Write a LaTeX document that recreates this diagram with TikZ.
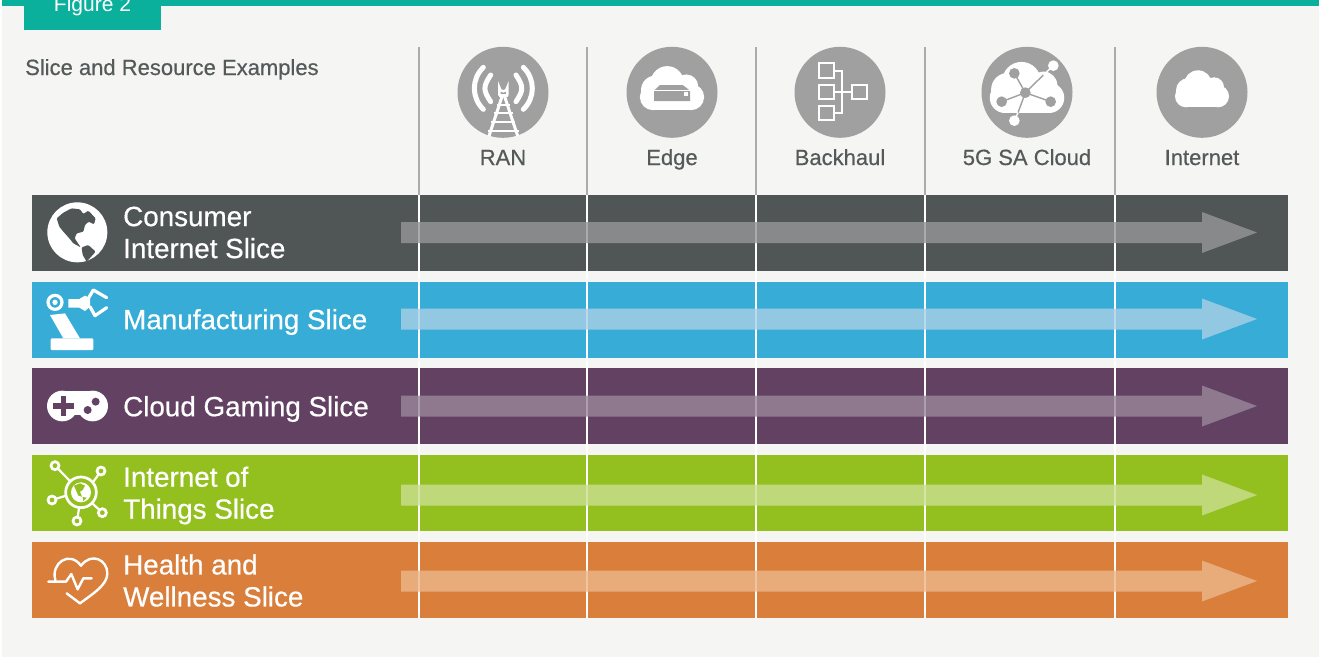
\documentclass[tikz,border=0pt]{standalone}
\usepackage{fontspec}
\setmainfont{Liberation Sans}
\newfontfamily\medfont[FakeBold=0.5]{Liberation Sans}
\definecolor{pagebg}{HTML}{F5F5F3}
\definecolor{teal}{HTML}{0AB09C}
\definecolor{labelgray}{HTML}{54595A}
\definecolor{rulegray}{HTML}{ABABAB}
\definecolor{icongray}{HTML}{A0A0A0}
\definecolor{bandgray}{HTML}{505556}
\definecolor{bandblue}{HTML}{37ACD6}
\definecolor{bandpurple}{HTML}{624162}
\definecolor{bandgreen}{HTML}{93C01F}
\definecolor{bandorange}{HTML}{D97F3B}
\definecolor{flowgray}{HTML}{969798}
\definecolor{flowblue}{HTML}{ABD0E6}
\definecolor{flowpurple}{HTML}{9A889B}
\definecolor{flowgreen}{HTML}{CBDF91}
\definecolor{floworange}{HTML}{ECB68A}
\tikzset{
  headlabel/.style={text=labelgray, inner sep=0pt, font=\medfont\fontsize{22}{26}\selectfont, anchor=base},
  bandlabel/.style={text=white, inner sep=0pt, font=\medfont\fontsize{27.8}{32}\selectfont, anchor=west, align=left},
  iconline/.style={draw=white, line width=2.4pt, line cap=round, line join=round},
}
% cloud in px around its centre
\newcommand{\cloudshape}{
  \fill (-16,4) circle[radius=11];
  \fill (-14,-2) circle[radius=12];
  \fill (-4,-8) circle[radius=14];
  \fill (12,-5) circle[radius=10];
  \fill (16,4) circle[radius=11];
  \fill (-16,-4) rectangle (16,15);
}
\begin{document}
\begin{tikzpicture}[x=1pt,y=-1pt]
 \useasboundingbox (0,0) rectangle (1319,657);
 \clip (0,0) rectangle (1319,657);

 %background and tab
 \fill[white] (0,0) rectangle (1319,657);
 \fill[pagebg] (2,0) rectangle (1319,657);
 \fill[teal] (2,0) rectangle (1319,6);
 \fill[teal] (24,0) rectangle (161,30);
 \node[text=white, inner sep=0pt, anchor=base, font=\fontsize{21}{24}\selectfont] (tab) at (92.5,11.5) {Figure 2};
 \node[headlabel, anchor=base west] (title) at (25,75) {Slice and Resource Examples};

 %header rules
 \foreach \x in {419,587,756,925,1115} {
   \draw[rulegray, line width=2pt] (\x,47) -- (\x,195);
 }

 %header circles
 \foreach \x/\name/\tag in {503/RAN/ran, 672/Edge/edge, 840/Backhaul/backhaul, 1027/5G SA Cloud/sacloud, 1202/Internet/internet} {
   \fill[icongray] (\x,92.3) circle[radius=45.5];
   \node[headlabel] (\tag) at (\x,165) {\name};
 }

 %bands
 \foreach \y/\col in {195/bandgray, 282/bandblue, 368/bandpurple, 455/bandgreen, 542/bandorange} {
   \fill[\col] (32,\y) rectangle (1288,\y+76);
 }
 \foreach \x in {419,587,756,925,1115} {
   \draw[white, line width=2pt] (\x,195) -- (\x,618);
 }
 \foreach \c/\col in {232.5/flowgray, 319/flowblue, 406/flowpurple, 495/flowgreen, 581/floworange} {
   \fill[\col, opacity=0.8] (401,\c-10.5) -- (1202,\c-10.5) -- (1202,\c-20.5) -- (1257,\c)
     -- (1202,\c+20.5) -- (1202,\c+10.5) -- (401,\c+10.5) -- cycle;
 }

 %band labels
 \node[bandlabel] (consumer) at (123,232.5) {Consumer\\Internet Slice};
 \node[bandlabel] (manufacturing) at (123,322) {Manufacturing Slice};
 \node[bandlabel] (gaming) at (123,409) {Cloud Gaming Slice};
 \node[bandlabel] (iot) at (123,495.5) {Internet of\\Things Slice};
 \node[bandlabel] (health) at (123,580.5) {Health and\\Wellness Slice};

 %RAN icon
 \begin{scope}[shift={(440,30)}, scale=1/3]
   \foreach \m/\a/\b/\c in {94/130/112/238, 129/152/135/215, 286/250/112/238, 251/228/135/215} {
     \draw[iconline, line width=5pt] (\a,\b) .. controls (\m,\b+35) and (\m,\c-35) .. (\a,\c);
   }
   \draw[white, line width=2.4pt] (178,197) -- (178,172) arc[start angle=180, end angle=0, radius=12] -- (202,197);
   \draw[white, line width=2.4pt] (176,197) -- (204,197);
   \draw[white, line width=3pt] (186,200) -- (147,318);
   \draw[white, line width=3pt] (194,200) -- (233,318);
   \foreach \y/\w in {225/20, 250/28, 275/36, 302/46} {
     \draw[white, line width=2pt] (190-\w,\y) -- (190+\w,\y);
   }
 \end{scope}

 %Edge icon
 \begin{scope}[shift={(672,92.3)}, scale=1.19, white]
   \cloudshape
 \end{scope}
 \begin{scope}[shift={(440,30)}, scale=1/3]
   \fill[icongray] (660,165) -- (728,165) -- (750,182) -- (750,213) -- (642,213) -- (642,182) -- cycle;
   \draw[white, line width=0.6pt] (642,182) -- (750,182);
   \fill[white] (733,187) rectangle (744,197);
 \end{scope}

 %Backhaul icon
 \begin{scope}[shift={(780,30)}, scale=1/3]
   \foreach \x/\y in {117/100, 117/165, 117/228, 217/165} {
     \draw[white, line width=2pt] (\x,\y) rectangle (\x+44,\y+43);
   }
   \draw[white, line width=2pt] (161,122) -- (187,122) -- (187,250) -- (161,250);
   \draw[white, line width=2pt] (161,187) -- (217,187);
 \end{scope}

 %5G SA Cloud icon
 \begin{scope}[shift={(1027,92.3)}, scale=1.38, white]
   \cloudshape
 \end{scope}
 \begin{scope}[shift={(780,30)}, scale=1/3]
   \foreach \x/\y in {703/130, 665/215, 812/215, 790/135} {
     \draw[icongray, line width=1.4pt] (736,188) -- (\x,\y);
   }
   \draw[icongray, line width=1.4pt] (736,188) -- (714,248);
   \draw[white, line width=1.4pt] (714,248) -- (703,272);
   \draw[white, line width=1.4pt] (790,135) -- (820,107);
   \foreach \x/\y in {736/188, 703/130, 665/215, 812/215} {
     \fill[icongray] (\x,\y) circle[radius=16];
   }
   \fill[white] (820,107) circle[radius=16];
   \fill[white] (703,272) circle[radius=16];
 \end{scope}

 %Internet icon
 \begin{scope}[shift={(1202,92.3)}, white]
   \cloudshape
 \end{scope}

 %globe icon
 \begin{scope}[shift={(30,190)}, scale=1/3]
   \fill[white] (142,127) circle[radius=90];
   \fill[bandgray, rounded corners=1pt] (80,85) -- (100,68) -- (125,55) -- (150,58) -- (160,72) -- (175,62) -- (197,85) -- (192,103)
     -- (176,95) -- (165,105) -- (160,125) -- (140,130) -- (134,145) -- (152,172) -- (130,160) -- (118,145) -- (100,125) -- (88,110) -- cycle;
   \fill[bandgray, rounded corners=1pt] (155,172) -- (175,165) -- (197,185) -- (170,215) -- (158,195) -- cycle;
 \end{scope}

 %robot arm icon
 \begin{scope}[shift={(30,190)}, scale=1/3]
   \draw[white, line width=3.2pt] (75,337) circle[radius=21];
   \fill[white] (75,337) circle[radius=8];
   \fill[white] (60,375) -- (105,370) -- (150,445) -- (100,445) -- cycle;
   \fill[white, rounded corners=1pt] (62,445) rectangle (190,480);
   \fill[white] (115,327) -- (148,327) -- (165,317) -- (180,325) -- (180,350) -- (165,363) -- (148,353) -- (115,353) -- cycle;
   \draw[iconline, line width=3.2pt] (230,323) -- (190,300) -- (175,325);
   \draw[iconline, line width=3.2pt] (230,353) -- (195,377) -- (180,350);
 \end{scope}

 %gamepad icon
 \begin{scope}[shift={(30,190)}, scale=1/3]
   \fill[white] (97,648) circle[radius=46];
   \fill[white] (188,648) circle[radius=46];
   \fill[white] (97,602) rectangle (188,676);
   \fill[bandpurple] (70,640) rectangle (131,656);
   \fill[bandpurple] (92,618) rectangle (108,678);
   \fill[bandpurple] (197,635) circle[radius=12];
   \fill[bandpurple] (173,660) circle[radius=12];
 \end{scope}

 %things icon
 \begin{scope}[shift={(30,445)}, scale=1/3]
   \foreach \x/\y/\px/\py in {75/62/120/108, 213/78/190/110, 66/165/108/152, 217/203/187/175, 141/228/147/190} {
     \draw[white, line width=2.2pt] (\x,\y) -- (\px,\py);
     \fill[bandgreen] (\x,\y) circle[radius=12];
     \draw[white, line width=2.7pt] (\x,\y) circle[radius=12];
   }
   \draw[white, line width=2.7pt] (153,142) circle[radius=46];
   \fill[white] (153,142) circle[radius=30];
   \fill[bandgreen] (132,122) -- (150,115) -- (165,122) -- (158,135) -- (150,140) -- (156,155) -- (145,152) -- cycle;
   \fill[bandgreen] (158,156) -- (170,158) -- (160,168) -- cycle;
 \end{scope}

 %heart icon
 \begin{scope}[shift={(30,445)}, scale=1/3]
   \draw[iconline] (76,405) .. controls (62,355) and (118,315) .. (153,362)
     .. controls (185,320) and (232,345) .. (232,385) .. controls (232,420) and (190,445) .. (150,475) -- (110,445);
   \draw[iconline] (55,410) -- (108,410) -- (124,387) -- (143,433) -- (160,400) -- (185,400);
 \end{scope}
\end{tikzpicture}
\end{document}
